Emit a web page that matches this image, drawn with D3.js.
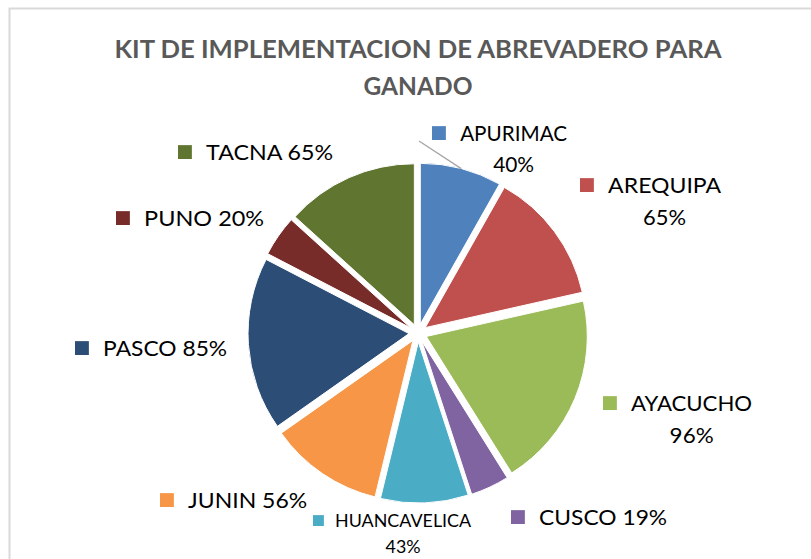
<!DOCTYPE html>
<html>
<head>
<meta charset="utf-8">
<script src="https://cdn.jsdelivr.net/npm/d3@7/dist/d3.min.js"></script>
<style>
  html, body { margin: 0; padding: 0; background: #fff; }
  svg { display: block; }
</style>
</head>
<body>
<svg id="chart" width="811" height="559"></svg>
<script>
// ---- data ----
const categories = ["APURIMAC", "AREQUIPA", "AYACUCHO", "CUSCO", "HUANCAVELICA", "JUNIN", "PASCO", "PUNO", "TACNA"];
const values = [40, 65, 96, 19, 43, 56, 85, 20, 65];
const valueLabels = ["40%", "65%", "96%", "19%", "43%", "56%", "85%", "20%", "65%"];
const colors = ["#4F81BD", "#C0504D", "#9BBB59", "#8064A2", "#4BACC6", "#F79646", "#2C4D75", "#772C2A", "#5F7530"];
const title = ["KIT DE IMPLEMENTACION DE ABREVADERO PARA", "GANADO"];

// ---- layout (label anchors: square left x, first baseline y, two-line?) ----
const labelLayout = [
  { x: 432, y: 141, twoLine: true,  size: 21, w: 107, pw: 41, dy: 31 },
  { x: 580, y: 193, twoLine: true,  size: 21, w: 113, pw: 43, dy: 32 },
  { x: 603, y: 411, twoLine: true,  size: 21, w: 121, pw: 44, dy: 32 },
  { x: 511, y: 525, twoLine: false, size: 21, w: 128 },
  { x: 313, y: 527, twoLine: true,  size: 16.5, w: 136, pw: 35, dy: 26 },
  { x: 160, y: 508, twoLine: false, size: 21, w: 119 },
  { x: 75,  y: 356, twoLine: false, size: 21, w: 124 },
  { x: 116, y: 226, twoLine: false, size: 21, w: 120 },
  { x: 178, y: 160, twoLine: false, size: 21, w: 127 }
];

const W = 811, H = 559;
const cx = 418, cy = 333, R = 161, explode = 9;
const font = "Lato, 'Open Sans', sans-serif";

const svg = d3.select("#chart");

// border
svg.append("rect")
  .attr("x", 9.5).attr("y", 8.5)
  .attr("width", W + 10).attr("height", H + 10)
  .attr("fill", "#fff")
  .attr("stroke", "#d9d9d9").attr("stroke-width", 2);

// title
svg.append("g").selectAll("text")
  .data(title)
  .join("text")
  .attr("x", cx)
  .attr("y", (d, i) => 58 + i * 37)
  .attr("text-anchor", "middle")
  .attr("font-family", font)
  .attr("font-weight", "bold")
  .attr("font-size", 25.5)
  .attr("fill", "#595959")
  .attr("textLength", (d, i) => i === 0 ? 607 : 109)
  .attr("lengthAdjust", "spacingAndGlyphs")
  .text(d => d);

// pie
const data = categories.map((c, i) => ({ name: c, value: values[i], label: valueLabels[i], color: colors[i], layout: labelLayout[i] }));
const pie = d3.pie().value(d => d.value).sort(null);
const arc = d3.arc().innerRadius(0).outerRadius(R);
const arcs = pie(data);

const g = svg.append("g").attr("transform", `translate(${cx},${cy})`);
g.selectAll("path")
  .data(arcs)
  .join("path")
  .attr("transform", d => {
    const a = (d.startAngle + d.endAngle) / 2;
    return `translate(${explode * Math.sin(a)},${-explode * Math.cos(a)})`;
  })
  .attr("d", arc)
  .attr("fill", d => d.data.color)
  .attr("stroke", "#fff")
  .attr("stroke-width", 1);

// leader line for first slice
const a0 = arcs[0];
const lineAngle = (a0.startAngle + a0.endAngle) / 2;
const rEnd = R + explode;
svg.append("line")
  .attr("x1", 419).attr("y1", 141)
  .attr("x2", cx + rEnd * Math.sin(lineAngle))
  .attr("y2", cy - rEnd * Math.cos(lineAngle))
  .attr("stroke", "#a6a6a6").attr("stroke-width", 1.3);

// labels
const lg = svg.append("g");
data.forEach(d => {
  const L = d.layout;
  const sq = L.size * 0.66;
  const textX = L.x + sq + L.size * 0.68;
  lg.append("rect")
    .attr("x", L.x).attr("y", L.y - sq - 1)
    .attr("width", sq).attr("height", sq)
    .attr("fill", d.color);
  const t1 = L.twoLine ? d.name : d.name + " " + d.label;
  lg.append("text")
    .attr("x", textX).attr("y", L.y)
    .attr("font-family", font).attr("font-size", L.size)
    .attr("fill", "#000")
    .attr("textLength", L.w).attr("lengthAdjust", "spacingAndGlyphs")
    .text(t1);
  if (L.twoLine) {
    lg.append("text")
      .attr("x", textX + L.w / 2 - L.pw / 2).attr("y", L.y + L.dy)
      .attr("font-family", font).attr("font-size", L.size)
      .attr("fill", "#000")
      .attr("textLength", L.pw).attr("lengthAdjust", "spacingAndGlyphs")
      .text(d.label);
  }
});
</script>
</body>
</html>
